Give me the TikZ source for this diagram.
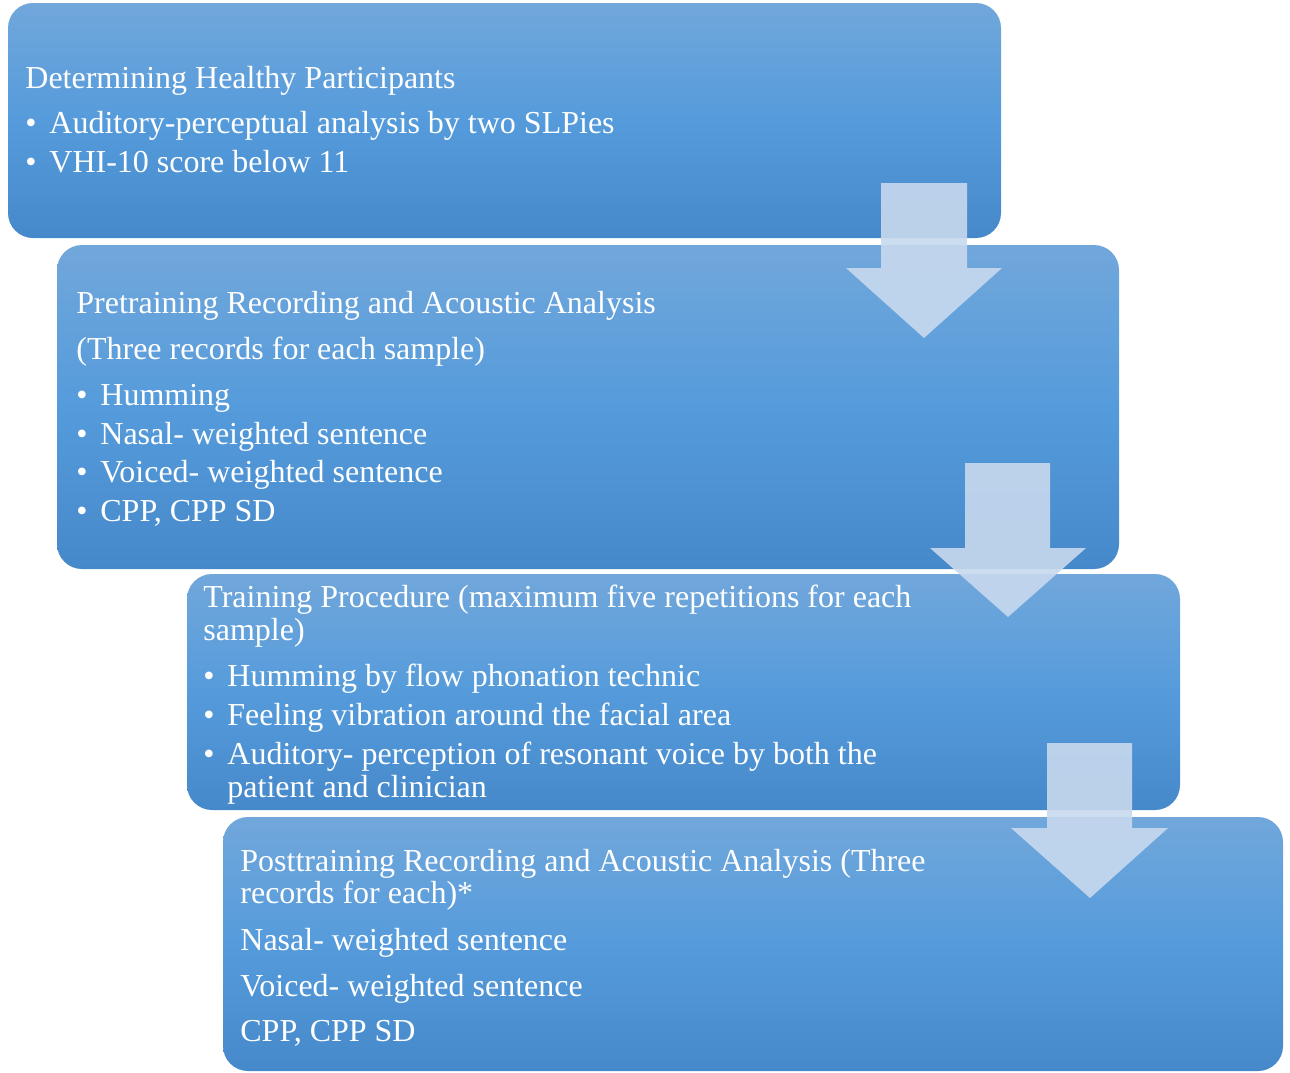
\documentclass[tikz,border=0pt]{standalone}
\usepackage{fontspec}
\setmainfont{Liberation Serif}
\begin{document}
\begin{tikzpicture}[x=0.5pt,y=-0.5pt,
  box/.style={top color=boxtop, bottom color=boxbot, middle color=boxmid, rounded corners=12.5pt},
  arrowshape/.style={fill=arrowfill, fill opacity=0.9},
  txt/.style={anchor=base west, inner sep=0pt, text=white, font=\fontsize{16}{19}\selectfont}]
\definecolor{boxtop}{HTML}{71A7DB}
\definecolor{boxmid}{HTML}{559BDB}
\definecolor{boxbot}{HTML}{4689CA}
\definecolor{arrowfill}{HTML}{C8D9EE}
\useasboundingbox (0,0) rectangle (1290,1072);
% boxes
\shade[box] (8,3) rectangle (1001,238);
\shade[box] (57,245) rectangle (1119,569);
\shade[box] (187,574) rectangle (1180,810);
\shade[box] (223,817) rectangle (1283,1071);
% box 1
\node[txt] (t1) at (25,88) {Determining Healthy Participants};
\node[txt] (b1a) at (25,133) {\textbullet};
\node[txt] (t1a) at (49,133) {Auditory-perceptual analysis by two SLPies};
\node[txt] (b1b) at (25,172) {\textbullet};
\node[txt] (t1b) at (49,172) {VHI-10 score below 11};
% box 2
\node[txt] (t2) at (76,313) {Pretraining Recording and Acoustic Analysis};
\node[txt] (t2s) at (76,359) {(Three records for each sample)};
\node[txt] (b2a) at (76,405) {\textbullet};
\node[txt] (t2a) at (100,405) {Humming};
\node[txt] (b2b) at (76,444) {\textbullet};
\node[txt] (t2b) at (100,444) {Nasal- weighted sentence};
\node[txt] (b2c) at (76,482) {\textbullet};
\node[txt] (t2c) at (100,482) {Voiced- weighted sentence};
\node[txt] (b2d) at (76,521) {\textbullet};
\node[txt] (t2d) at (100,521) {CPP, CPP SD};
% box 3
\node[txt] (t3) at (203,607) {Training Procedure (maximum five repetitions for each};
\node[txt] (t3s) at (203,640) {sample)};
\node[txt] (b3a) at (203,686) {\textbullet};
\node[txt] (t3a) at (227,686) {Humming by flow phonation technic};
\node[txt] (b3b) at (203,725) {\textbullet};
\node[txt] (t3b) at (227,725) {Feeling vibration around the facial area};
\node[txt] (b3c) at (203,764) {\textbullet};
\node[txt] (t3c) at (227,764) {Auditory- perception of resonant voice by both the};
\node[txt] (t3d) at (227,797) {patient and clinician};
% box 4
\node[txt] (t4) at (240,871) {Posttraining Recording and Acoustic Analysis (Three};
\node[txt] (t4s) at (240,903) {records for each)*};
\node[txt] (t4a) at (240,950) {Nasal- weighted sentence};
\node[txt] (t4b) at (240,996) {Voiced- weighted sentence};
\node[txt] (t4c) at (240,1041) {CPP, CPP SD};
% arrows
\fill[arrowshape] (881,183) -- (967,183) -- (967,268) -- (1002,268) -- (924,338) -- (846,268) -- (881,268) -- cycle;
\fill[arrowshape] (965,463) -- (1050,463) -- (1050,548) -- (1086,548) -- (1008,617) -- (930,548) -- (965,548) -- cycle;
\fill[arrowshape] (1047,743) -- (1132,743) -- (1132,828) -- (1168,828) -- (1090,898) -- (1011,828) -- (1047,828) -- cycle;
\end{tikzpicture}
\end{document}
